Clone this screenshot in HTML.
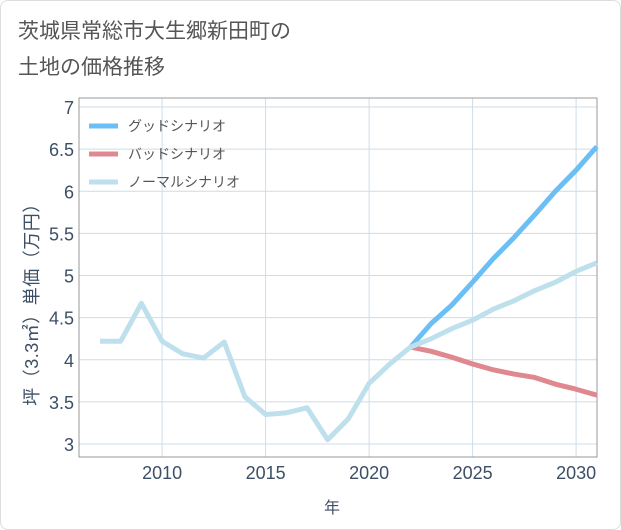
<!DOCTYPE html>
<html><head><meta charset="utf-8"><style>
body{margin:0;background:#fff;font-family:"Liberation Sans","Noto Sans CJK JP",sans-serif;}
#wrap{position:relative;width:619px;height:528px;border:1px solid #ddd;border-radius:8px;overflow:hidden;}
</style></head><body>
<div id="wrap">
<svg id="chart" width="621" height="530" style="position:absolute;left:-1px;top:-1px">
<text x="18" y="38" font-size="21" fill="#555">茨城県常総市大生郷新田町の</text>
<text x="18" y="74" font-size="21" fill="#555">土地の価格推移</text>
<g id="grid"></g>
<g id="lines"></g>
<g id="legend"></g>
<text x="332" y="513" font-size="16" fill="#3d4f66" text-anchor="middle">年</text>
<text transform="translate(38,300) rotate(-90)" font-size="18" letter-spacing="0.5" fill="#3d4f66" text-anchor="middle">坪（3.3㎡）単価（万円）</text>
</svg>
</div>
<script>
const years=[2007,2008,2009,2010,2011,2012,2013,2014,2015,2016,2017,2018,2019,2020,2021,2022,2023,2024,2025,2026,2027,2028,2029,2030,2031];
const normal=[4.22,4.22,4.67,4.22,4.07,4.02,4.21,3.56,3.35,3.37,3.43,3.05,3.30,3.72,3.95,4.15,4.25,4.37,4.47,4.60,4.70,4.82,4.92,5.05,5.15];
const futureYears=[2022,2023,2024,2025,2026,2027,2028,2029,2030,2031];
const good=[4.15,4.43,4.65,4.92,5.20,5.45,5.72,6.00,6.25,6.53];
const bad=[4.15,4.10,4.03,3.95,3.88,3.83,3.79,3.71,3.65,3.58];
const yTicks=[3,3.5,4,4.5,5,5.5,6,6.5,7];
const yTickLabels=["3","3.5","4","4.5","5","5.5","6","6.5","7"];
const xTicks=[2010,2015,2020,2025,2030];
const L=79,R=597,T=98,B=457;
const xs=y=>100+(y-2007)*20.7;
const ys=v=>444-(v-3)*84.25;
const NS="http://www.w3.org/2000/svg";
function mk(tag,attrs,parent){const e=document.createElementNS(NS,tag);for(const k in attrs)e.setAttribute(k,attrs[k]);parent.appendChild(e);return e;}
const grid=document.getElementById('grid');
yTicks.forEach((t,i)=>{
 const l=mk('line',{x1:L,x2:R,y1:ys(t),y2:ys(t),stroke:'#cfdce8','stroke-width':1},grid);
 
 
 const tx=mk('text',{x:74,y:ys(t)+7,'font-size':18,fill:'#3d4f66','text-anchor':'end'},grid);
 tx.textContent=yTickLabels[i];
 
 
});
xTicks.forEach(t=>{
 const l=mk('line',{x1:xs(t),x2:xs(t),y1:T,y2:B,stroke:'#cfdce8','stroke-width':1},grid);
 
 
 const tx=mk('text',{x:xs(t),y:479,'font-size':18,fill:'#3d4f66','text-anchor':'middle'},grid);
 tx.textContent=String(t);
 
 
});
const fr=mk('rect',{x:L,y:T,width:R-L,height:B-T,fill:'none',stroke:'#999','stroke-width':1},grid);


const lines=document.getElementById('lines');
function series(xa,va,color,name){
 const p=mk('polyline',{points:xa.map((x,i)=>xs(x)+','+ys(va[i])).join(' '),fill:'none',stroke:color,'stroke-width':5,'stroke-linejoin':'round'},lines);
 
 
}
series(futureYears,bad,'#e08890','bad-scenario-line');
series(futureYears,good,'#6bbff5','good-scenario-line');
series(years,normal,'#bde0ec','normal-scenario-line');
const lg=document.getElementById('legend');
[['グッドシナリオ','#6bbff5'],['バッドシナリオ','#e08890'],['ノーマルシナリオ','#bde0ec']].forEach((d,i)=>{
 const y=126+i*28;
 const g=mk('g',{},lg);
 
 
 mk('line',{x1:89,x2:118,y1:y,y2:y,stroke:d[1],'stroke-width':5},g);
 const t=mk('text',{x:128,y:y+5,'font-size':14,fill:'#555'},g);
 t.textContent=d[0];
});
</script>
</body></html>
